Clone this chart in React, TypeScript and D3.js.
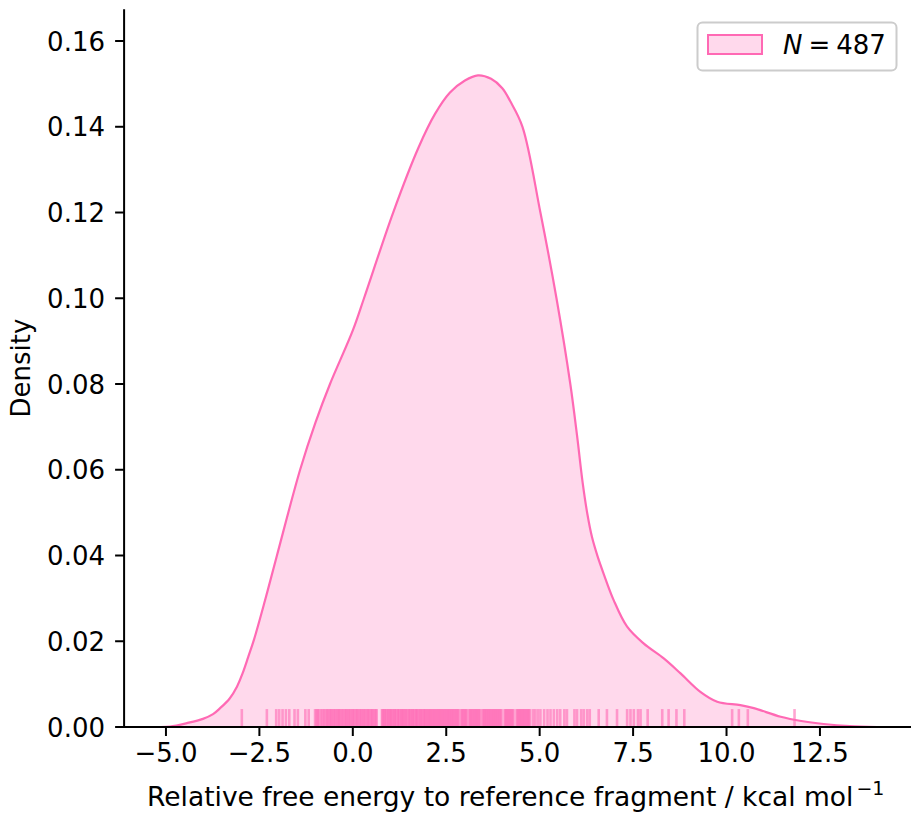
import React from "react";
import * as d3 from "d3";

// KDE curve (x in kcal/mol, density)
const kdeX = [-5.16, -4.89, -4.44, -4.01, -3.74, -3.55, -3.3, -3.1, -2.95, -2.8, -2.64, -2.35, -2.03, -1.41, -1.0, -0.61, 0, 0.3, 1.08, 1.75, 2.2, 2.6, 3.0, 3.35, 3.7, 4.0, 4.21, 4.54, 5.02, 5.45, 5.82, 6.0, 6.15, 6.28, 6.4, 6.55, 6.71, 6.98, 7.34, 7.78, 8.32, 8.77, 9.3, 9.75, 10.37, 10.73, 11.45, 12.0, 12.6, 13.3, 14.03];
const kdeY = [0, 0.0001, 0.0009, 0.0019, 0.003, 0.0044, 0.0066, 0.0094, 0.0125, 0.0163, 0.0205, 0.0295, 0.04, 0.06, 0.071, 0.08, 0.0925, 0.1, 0.12, 0.135, 0.143, 0.148, 0.1508, 0.152, 0.1512, 0.149, 0.146, 0.14, 0.12, 0.1, 0.08, 0.068, 0.057, 0.0495, 0.0443, 0.0398, 0.0358, 0.0296, 0.0234, 0.0195, 0.016, 0.0125, 0.0082, 0.0059, 0.0051, 0.0044, 0.0024, 0.0014, 0.0007, 0.0002, 0];

// Rug positions
const rugValues = [
  -2.97, -2.3, -2.05, -1.97, -1.88, -1.79, -1.7, -1.56, -1.47, -1.27, -1.18,
  -1.01, -0.97, -0.94, -0.9, -0.85, -0.81, -0.77, -0.73, -0.69, -0.66,
  -0.62, -0.59, -0.56, -0.52, -0.49, -0.46, -0.42, -0.39, -0.36, -0.33, -0.29, -0.26, -0.22, -0.19, -0.16, -0.12, -0.09, -0.06, -0.02,
  0.01, 0.04, 0.08, 0.11, 0.14, 0.18, 0.21, 0.24, 0.28, 0.31, 0.34, 0.38, 0.41, 0.44, 0.48, 0.51, 0.54, 0.58, 0.61, 0.64,
  0.78, 0.8, 0.84, 0.86, 0.89, 0.93, 0.95, 0.99, 1.01, 1.04, 1.07, 1.11, 1.13, 1.16, 1.2, 1.22, 1.25, 1.29, 1.31, 1.34, 1.37, 1.4, 1.43, 1.46, 1.5, 1.52, 1.55, 1.59, 1.61, 1.64, 1.68, 1.7, 1.73, 1.76, 1.8, 1.82, 1.85, 1.89, 1.91, 1.94, 1.97, 2.0, 2.03, 2.06, 2.09, 2.12, 2.15, 2.18, 2.21, 2.24, 2.27, 2.3, 2.33, 2.36, 2.39, 2.42, 2.45, 2.48, 2.51, 2.54, 2.57, 2.6, 2.63, 2.66, 2.69, 2.72, 2.75, 2.78, 2.81, 2.84,
  2.9, 2.93, 2.96, 2.99, 3.02, 3.05, 3.11, 3.14, 3.17, 3.2, 3.23, 3.26, 3.29, 3.32, 3.35, 3.38, 3.41, 3.47, 3.5, 3.53, 3.56, 3.59, 3.62, 3.65, 3.68, 3.71, 3.74, 3.77, 3.8, 3.83, 3.86, 3.89, 3.92, 3.95, 3.98, 4.06, 4.09, 4.12, 4.15, 4.18, 4.21, 4.24, 4.27, 4.3, 4.38, 4.41, 4.44, 4.47, 4.5, 4.53, 4.56, 4.59, 4.62, 4.65, 4.68, 4.71, 4.74,
  4.82, 4.88, 4.95, 5.02, 5.12, 5.21, 5.29, 5.38, 5.47, 5.55, 5.66, 5.73, 5.93, 6.0, 6.11, 6.18, 6.27, 6.34,
  6.58, 6.8, 7.07, 7.34, 7.43, 7.52, 7.63, 7.7, 7.89, 8.28, 8.45, 8.66, 8.87,
  10.15, 10.33, 10.57, 11.82,
];

const xTicks = [-5, -2.5, 0, 2.5, 5, 7.5, 10, 12.5];
const yTicks = [0, 0.02, 0.04, 0.06, 0.08, 0.1, 0.12, 0.14, 0.16];
const legendCount = 487;

const W = 911;
const H = 813;
const COLOR = "#ff69b4";
const FONT = "'DejaVu Sans', sans-serif";

export default function App() {
  const x = d3.scaleLinear().domain([-6.12, 14.99]).range([124.1, 913]);
  const y = d3.scaleLinear().domain([0, 0.1674]).range([727, 9.3]);
  const pts: [number, number][] = kdeX.map((v, i) => [v, kdeY[i]]);
  const curve = d3.curveCatmullRom.alpha(0.5);

  const area = d3
    .area<[number, number]>()
    .x((d) => x(d[0]))
    .y0(y(0))
    .y1((d) => y(d[1]))
    .curve(curve);
  const line = d3
    .line<[number, number]>()
    .x((d) => x(d[0]))
    .y((d) => y(d[1]))
    .curve(curve);

  const rugTop = y(0) - 0.025 * (y(0) - y(0.1674));
  const fmtX = d3.format(".1f");
  const fmtY = d3.format(".2f");

  return (
    <svg
      width={W}
      height={H}
      style={{ position: "absolute", left: 0, top: 0, background: "#fff" }}
      fontFamily={FONT}
    >
      <rect x={0} y={0} width={W} height={H} fill="#fff" />
      <path d={area(pts) || ""} fill={COLOR} fillOpacity={0.25} />
      <path d={line(pts) || ""} fill="none" stroke={COLOR} strokeWidth={2.2} />
      {rugValues.map((v, i) => (
        <line
          key={i}
          x1={x(v)}
          x2={x(v)}
          y1={y(0)}
          y2={rugTop}
          stroke={COLOR}
          strokeOpacity={0.6}
          strokeWidth={2.6}
        />
      ))}
      {/* spines */}
      <line x1={124.1} x2={W} y1={y(0)} y2={y(0)} stroke="#000" strokeWidth={2} />
      <line x1={124.1} x2={124.1} y1={9.3} y2={y(0) + 1} stroke="#000" strokeWidth={2} />
      {/* x ticks */}
      {xTicks.map((t) => (
        <g key={t}>
          <line x1={x(t)} x2={x(t)} y1={y(0)} y2={y(0) + 9} stroke="#000" strokeWidth={2} />
          <text x={x(t)} y={762} textAnchor="middle" fontSize={26} fill="#000">
            {fmtX(t)}
          </text>
        </g>
      ))}
      {/* y ticks */}
      {yTicks.map((t) => (
        <g key={t}>
          <line x1={124.1 - 9} x2={124.1} y1={y(t)} y2={y(t)} stroke="#000" strokeWidth={2} />
          <text x={105} y={y(t) + 9.5} textAnchor="end" fontSize={26} fill="#000">
            {fmtY(t)}
          </text>
        </g>
      ))}
      {/* axis labels */}
      <text x={147} y={806} fontSize={26.5} fill="#000">
        Relative free energy to reference fragment / kcal mol
        <tspan fontSize={19} dx={3} dy={-11}>−1</tspan>
      </text>
      <text transform="translate(30,368) rotate(-90)" textAnchor="middle" fontSize={26} fill="#000">
        Density
      </text>
      {/* legend */}
      <rect x={697.5} y={22.5} width={199} height={48} rx={5} fill="#fff" fillOpacity={0.8} stroke="#cccccc" strokeWidth={2} />
      <rect x={708} y={35} width={54} height={19} fill={COLOR} fillOpacity={0.25} stroke={COLOR} strokeWidth={2} />
      <text x={783} y={54} fontSize={26} fill="#000">
        <tspan fontStyle="italic">N</tspan>
        <tspan dx={6}>=</tspan>
        <tspan dx={6}>{legendCount}</tspan>
      </text>
    </svg>
  );
}
